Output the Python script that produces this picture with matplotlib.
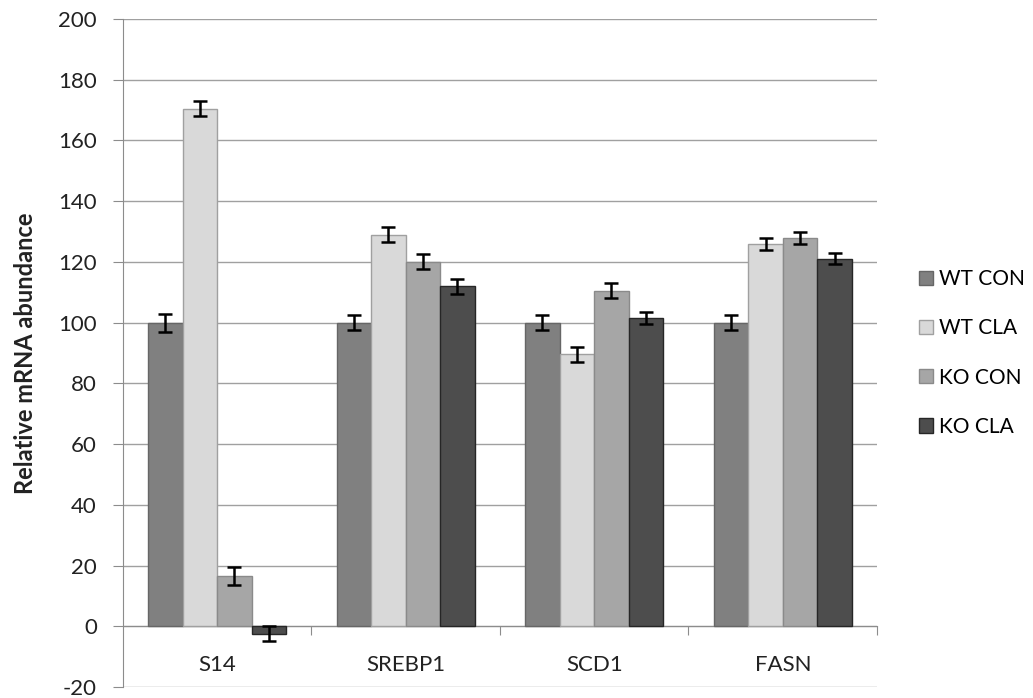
import matplotlib.pyplot as plt
import numpy as np

genes = ['S14', 'SREBP1', 'SCD1', 'FASN']
groups = ['WT CON', 'WT CLA', 'KO CON', 'KO CLA']

wt_con = [100, 100, 100, 100]
wt_cla = [170.5, 129, 89.5, 126]
ko_con = [16.5, 120, 110.5, 128]
ko_cla = [-2.5, 112, 101.5, 121]

wt_con_err = [3, 2.5, 2.5, 2.5]
wt_cla_err = [2.5, 2.5, 2.5, 2]
ko_con_err = [3, 2.5, 2.5, 2]
ko_cla_err = [2.5, 2.5, 2, 1.8]

colors = ['#808080', '#d9d9d9', '#a6a6a6', '#4d4d4d']
edges = ['#666666', '#a0a0a0', '#8a8a8a', '#262626']

plt.rcParams['font.family'] = ['Lato', 'DejaVu Sans']
plt.rcParams['axes.unicode_minus'] = False

fig = plt.figure(figsize=(10.33, 6.98), dpi=100)
ax = fig.add_axes([0.119, 0.0158, 0.73, 0.957])

x = np.arange(len(genes))
w = 0.183
series = [wt_con, wt_cla, ko_con, ko_cla]
errs = [wt_con_err, wt_cla_err, ko_con_err, ko_cla_err]
for i, (vals, err) in enumerate(zip(series, errs)):
    ax.bar(x + (i - 1.5) * w, vals, w, color=colors[i], edgecolor=edges[i],
           linewidth=1, label=groups[i], zorder=3)
    ax.errorbar(x + (i - 1.5) * w, vals, yerr=err, fmt='none', ecolor='black',
                elinewidth=1.8, capsize=4.7, capthick=1.8, zorder=4)

ax.set_xlim(-0.5, 3.5)
ax.set_ylim(-20, 200)
ax.set_yticks(range(-20, 201, 20))
ax.yaxis.grid(True, color='#a0a0a0', linewidth=1)
ax.set_axisbelow(True)

ax.spines['top'].set_visible(False)
ax.spines['right'].set_visible(False)
ax.spines['left'].set_color('#8c8c8c')
ax.spines['bottom'].set_color('#8c8c8c')
ax.spines['bottom'].set_position(('data', 0))

# category ticks between groups, labels at the group centres
ax.set_xticks(np.arange(0.5, 4, 1))
ax.set_xticklabels([])
ax.set_xticks(x, minor=True)
ax.set_xticklabels(genes, minor=True, fontsize=16, color='#222222')
ax.tick_params(axis='x', which='major', direction='out', length=6.5, color='#8c8c8c')
ax.tick_params(axis='x', which='minor', length=0, pad=21)
ax.tick_params(axis='y', direction='out', length=7.2, color='#8c8c8c',
               labelsize=16, labelcolor='#222222', pad=11.5)

ax.set_ylabel('Relative mRNA abundance', fontsize=17, fontweight='bold', color='#222222')
ax.yaxis.set_label_coords(-0.114, 0.5)

ax.legend(loc='center left', bbox_to_anchor=(1.056, 0.5), frameon=False,
          fontsize=15, handlelength=0.67, handleheight=0.67, handletextpad=0.3,
          labelspacing=1.4, borderpad=0, borderaxespad=0)

plt.savefig('out.png', dpi=100)
